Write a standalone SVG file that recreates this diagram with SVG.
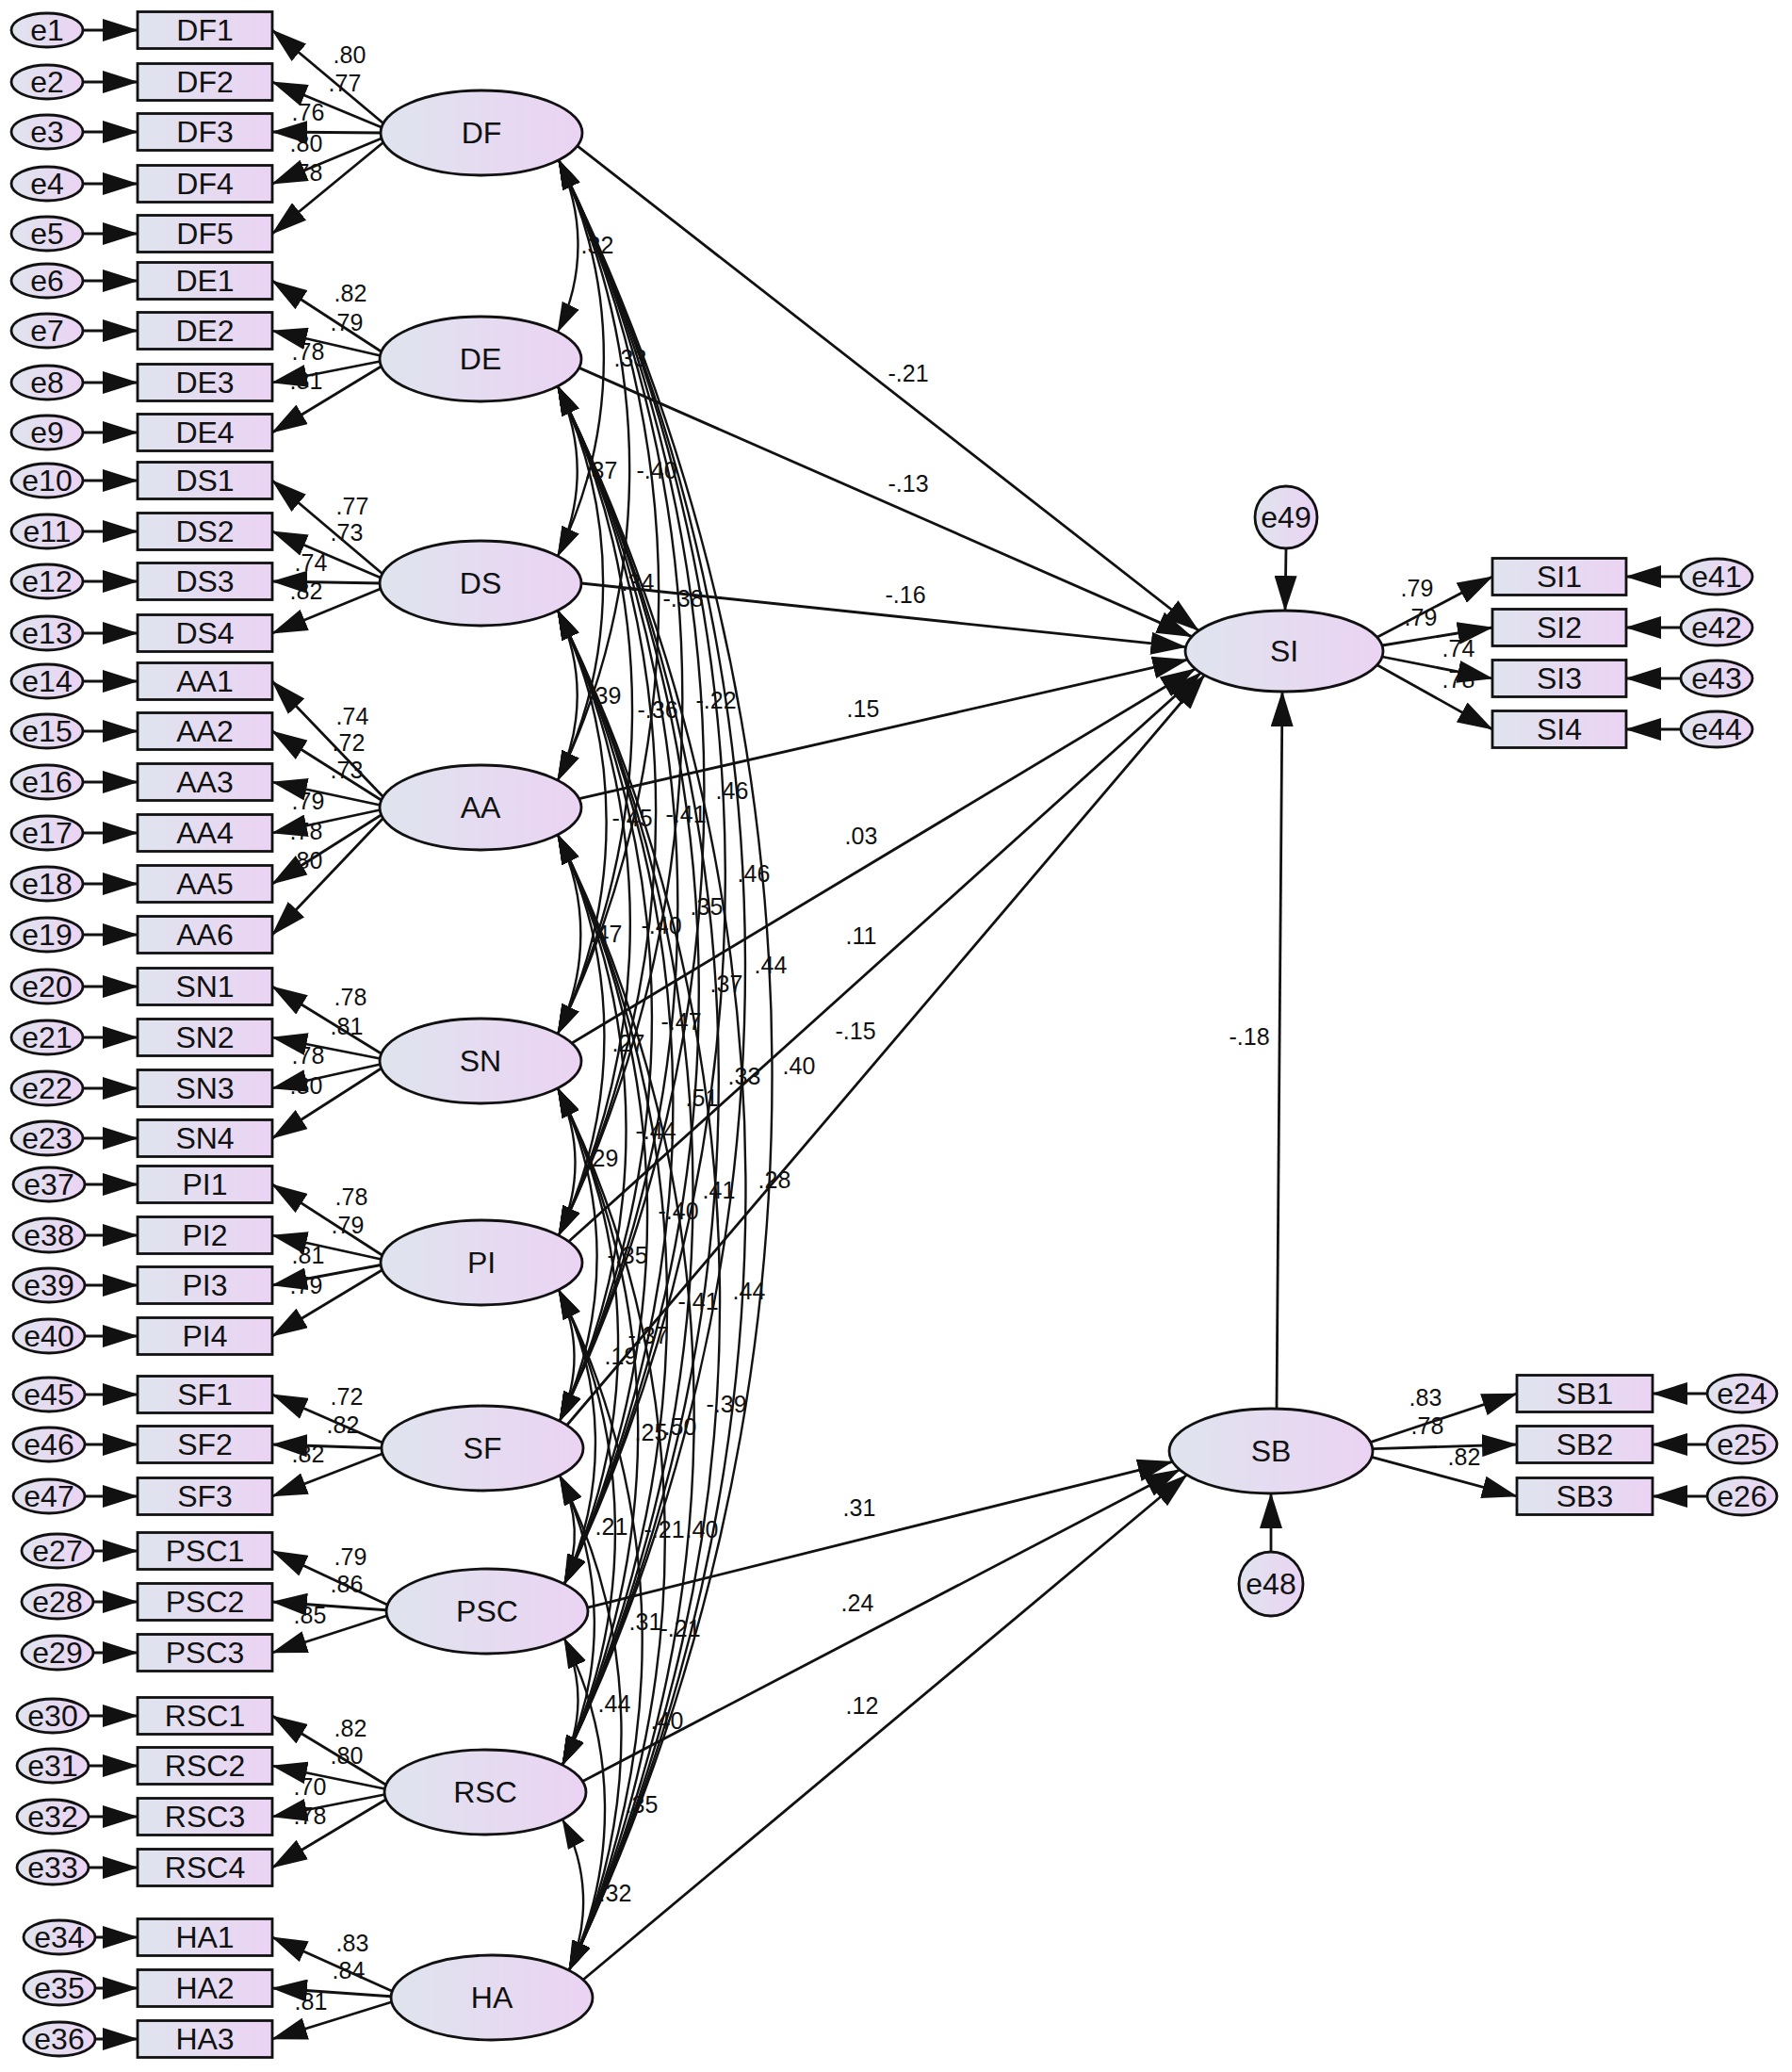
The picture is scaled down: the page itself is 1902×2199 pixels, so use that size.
<svg xmlns="http://www.w3.org/2000/svg" width="1902" height="2199" viewBox="0 0 1902 2199">
<defs>
<linearGradient id="g" x1="0" y1="0" x2="1" y2="0"><stop offset="0" stop-color="#dfe4ee"/><stop offset="1" stop-color="#ebd3f3"/></linearGradient>
<marker id="ah" viewBox="0 0 38 24" refX="37" refY="12" markerUnits="userSpaceOnUse" markerWidth="38" markerHeight="24" orient="auto"><path d="M0,0 L38,12 L0,24 z" fill="#111"/></marker>
<marker id="ac" viewBox="0 0 32 20" refX="31" refY="10" markerUnits="userSpaceOnUse" markerWidth="32" markerHeight="20" orient="auto-start-reverse"><path d="M0,0 L32,10 L0,20 z" fill="#111"/></marker>
<style>
.box,.lat,.err{fill:url(#g);stroke:#111;stroke-width:2.8}
.ln{stroke:#111;stroke-width:2.8;fill:none;marker-end:url(#ah)}
.cv{stroke:#111;stroke-width:2.4;fill:none;marker-start:url(#ac);marker-end:url(#ac)}
text{font-family:"Liberation Sans",Arial,sans-serif;fill:#111;text-anchor:middle}
.t{font-size:32px}
.n{font-size:25px}
</style>
</defs>
<rect width="1902" height="2199" fill="#fff"/>

<g id="connectors">
<path class="ln" d="M88,32 L146,32"/><path class="ln" d="M88,87 L146,87"/><path class="ln" d="M88,140 L146,140"/><path class="ln" d="M88,195 L146,195"/><path class="ln" d="M88,248 L146,248"/>
<path class="ln" d="M88,298 L146,298"/><path class="ln" d="M88,351 L146,351"/><path class="ln" d="M88,406 L146,406"/><path class="ln" d="M88,459 L146,459"/>
<path class="ln" d="M88,510 L146,510"/><path class="ln" d="M88,564 L146,564"/><path class="ln" d="M88,617 L146,617"/><path class="ln" d="M88,672 L146,672"/>
<path class="ln" d="M88,723 L146,723"/><path class="ln" d="M88,776 L146,776"/><path class="ln" d="M88,830 L146,830"/><path class="ln" d="M88,884 L146,884"/><path class="ln" d="M88,938 L146,938"/><path class="ln" d="M88,992 L146,992"/>
<path class="ln" d="M88,1047 L146,1047"/><path class="ln" d="M88,1101 L146,1101"/><path class="ln" d="M88,1155 L146,1155"/><path class="ln" d="M88,1208 L146,1208"/>
<path class="ln" d="M90,1257 L146,1257"/><path class="ln" d="M90,1311 L146,1311"/><path class="ln" d="M90,1364 L146,1364"/><path class="ln" d="M90,1418 L146,1418"/>
<path class="ln" d="M90,1480 L146,1480"/><path class="ln" d="M90,1533 L146,1533"/><path class="ln" d="M90,1588 L146,1588"/>
<path class="ln" d="M99,1646 L146,1646"/><path class="ln" d="M99,1700 L146,1700"/><path class="ln" d="M99,1754 L146,1754"/>
<path class="ln" d="M94,1821 L146,1821"/><path class="ln" d="M94,1874 L146,1874"/><path class="ln" d="M94,1928 L146,1928"/><path class="ln" d="M94,1982 L146,1982"/>
<path class="ln" d="M101,2056 L146,2056"/><path class="ln" d="M101,2110 L146,2110"/><path class="ln" d="M101,2164 L146,2164"/>

<path class="ln" d="M407,131 L289,32"/><path class="ln" d="M407,136 L289,87"/><path class="ln" d="M407,141 L289,140"/><path class="ln" d="M407,146 L289,195"/><path class="ln" d="M407,151 L289,248"/>
<path class="ln" d="M406,374 L289,298"/><path class="ln" d="M406,378 L289,351"/><path class="ln" d="M406,383 L289,406"/><path class="ln" d="M406,388 L289,459"/>
<path class="ln" d="M406,609 L289,510"/><path class="ln" d="M406,614 L289,564"/><path class="ln" d="M406,619 L289,617"/><path class="ln" d="M406,624 L289,672"/>
<path class="ln" d="M406,845 L289,723"/><path class="ln" d="M406,850 L289,776"/><path class="ln" d="M406,855 L289,830"/><path class="ln" d="M406,859 L289,884"/><path class="ln" d="M406,864 L289,938"/><path class="ln" d="M406,869 L289,992"/>
<path class="ln" d="M406,1119 L289,1047"/><path class="ln" d="M406,1124 L289,1101"/><path class="ln" d="M406,1129 L289,1155"/><path class="ln" d="M406,1133 L289,1208"/>
<path class="ln" d="M407,1333 L289,1257"/><path class="ln" d="M407,1337 L289,1311"/><path class="ln" d="M407,1342 L289,1364"/><path class="ln" d="M407,1347 L289,1418"/>
<path class="ln" d="M408,1532 L289,1480"/><path class="ln" d="M408,1537 L289,1533"/><path class="ln" d="M408,1542 L289,1588"/>
<path class="ln" d="M413,1704 L289,1646"/><path class="ln" d="M413,1709 L289,1700"/><path class="ln" d="M413,1714 L289,1754"/>
<path class="ln" d="M411,1895 L289,1821"/><path class="ln" d="M411,1899 L289,1874"/><path class="ln" d="M411,1904 L289,1928"/><path class="ln" d="M411,1909 L289,1982"/>
<path class="ln" d="M418,2114 L289,2056"/><path class="ln" d="M418,2119 L289,2110"/><path class="ln" d="M418,2124 L289,2164"/>

<path class="cv" d="M593,170 A208,208 0 0 1 592,352"/>
<path class="cv" d="M593,170 A480,480 0 0 1 592,590"/>
<path class="cv" d="M593,170 A753,753 0 0 1 592,828"/>
<path class="cv" d="M593,170 A1060,1060 0 0 1 592,1097"/>
<path class="cv" d="M593,170 A1305,1305 0 0 1 593,1311"/>
<path class="cv" d="M593,170 A1531,1531 0 0 1 594,1508"/>
<path class="cv" d="M593,170 A1729,1729 0 0 1 599,1681"/>
<path class="cv" d="M593,170 A1948,1948 0 0 1 597,1873"/>
<path class="cv" d="M593,170 A2198,2198 0 0 1 604,2091"/>
<path class="cv" d="M592,410 A206,206 0 0 1 592,590"/>
<path class="cv" d="M592,410 A478,478 0 0 1 592,828"/>
<path class="cv" d="M592,410 A786,786 0 0 1 592,1097"/>
<path class="cv" d="M592,410 A1031,1031 0 0 1 593,1311"/>
<path class="cv" d="M592,410 A1256,1256 0 0 1 594,1508"/>
<path class="cv" d="M592,410 A1454,1454 0 0 1 599,1681"/>
<path class="cv" d="M592,410 A1674,1674 0 0 1 597,1873"/>
<path class="cv" d="M592,410 A1923,1923 0 0 1 604,2091"/>
<path class="cv" d="M592,648 A206,206 0 0 1 592,828"/>
<path class="cv" d="M592,648 A514,514 0 0 1 592,1097"/>
<path class="cv" d="M592,648 A758,758 0 0 1 593,1311"/>
<path class="cv" d="M592,648 A984,984 0 0 1 594,1508"/>
<path class="cv" d="M592,648 A1182,1182 0 0 1 599,1681"/>
<path class="cv" d="M592,648 A1401,1401 0 0 1 597,1873"/>
<path class="cv" d="M592,648 A1651,1651 0 0 1 604,2091"/>
<path class="cv" d="M592,886 A241,241 0 0 1 592,1097"/>
<path class="cv" d="M592,886 A486,486 0 0 1 593,1311"/>
<path class="cv" d="M592,886 A712,712 0 0 1 594,1508"/>
<path class="cv" d="M592,886 A909,909 0 0 1 599,1681"/>
<path class="cv" d="M592,886 A1129,1129 0 0 1 597,1873"/>
<path class="cv" d="M592,886 A1379,1379 0 0 1 604,2091"/>
<path class="cv" d="M592,1155 A178,178 0 0 1 593,1311"/>
<path class="cv" d="M592,1155 A404,404 0 0 1 594,1508"/>
<path class="cv" d="M592,1155 A602,602 0 0 1 599,1681"/>
<path class="cv" d="M592,1155 A821,821 0 0 1 597,1873"/>
<path class="cv" d="M592,1155 A1071,1071 0 0 1 604,2091"/>
<path class="cv" d="M593,1369 A159,159 0 0 1 594,1508"/>
<path class="cv" d="M593,1369 A357,357 0 0 1 599,1681"/>
<path class="cv" d="M593,1369 A577,577 0 0 1 597,1873"/>
<path class="cv" d="M593,1369 A826,826 0 0 1 604,2091"/>
<path class="cv" d="M594,1566 A132,132 0 0 1 599,1681"/>
<path class="cv" d="M594,1566 A351,351 0 0 1 597,1873"/>
<path class="cv" d="M594,1566 A601,601 0 0 1 604,2091"/>
<path class="cv" d="M599,1739 A153,153 0 0 1 597,1873"/>
<path class="cv" d="M599,1739 A403,403 0 0 1 604,2091"/>
<path class="cv" d="M597,1931 A183,183 0 0 1 604,2091"/>

<path class="ln" d="M612.8,154.9 L1272.3,669.4"/>
<path class="ln" d="M614.7,390.4 L1264.9,675.6"/>
<path class="ln" d="M617,619 L1258.5,686.6"/>
<path class="ln" d="M614.7,847.6 L1260.4,700.1"/>
<path class="ln" d="M607,1107 L1268.6,709.8"/>
<path class="ln" d="M603.7,1317.5 L1274.4,714.1"/>
<path class="ln" d="M601.7,1512.5 L1278.4,716.5"/>
<path class="ln" d="M623.6,1706.1 L1244.5,1551.3"/>
<path class="ln" d="M618.4,1890.4 L1252.1,1559.8"/>
<path class="ln" d="M619,2101 L1259.7,1565.3"/>
<path class="ln" d="M1355,1495 L1361,734"/>
<path class="ln" d="M1365,582 L1364,648"/>
<path class="ln" d="M1349,1647 L1349,1585"/>

<path class="ln" d="M1461.7,676.3 L1584,612"/><path class="ln" d="M1467,685 L1584,666"/><path class="ln" d="M1467,697 L1584,720"/><path class="ln" d="M1461.7,705.7 L1584,774"/>
<path class="ln" d="M1784,612 L1726,612"/><path class="ln" d="M1784,666 L1726,666"/><path class="ln" d="M1784,720 L1726,720"/><path class="ln" d="M1784,774 L1726,774"/>
<path class="ln" d="M1454.6,1530.6 L1610,1479"/><path class="ln" d="M1456.9,1537.6 L1610,1533"/><path class="ln" d="M1455.9,1546.3 L1610,1588"/>
<path class="ln" d="M1812,1479 L1754,1479"/><path class="ln" d="M1812,1533 L1754,1533"/><path class="ln" d="M1812,1588 L1754,1588"/>
</g>

<g id="labels">
<g class="n">
<text x="371" y="67">.80</text><text x="366" y="97">.77</text><text x="327" y="128">.76</text><text x="325" y="161">.80</text><text x="325" y="192">.78</text>
<text x="372" y="320">.82</text><text x="368" y="351">.79</text><text x="327" y="382">.78</text><text x="325" y="413">.81</text>
<text x="374" y="546">.77</text><text x="368" y="574">.73</text><text x="330" y="606">.74</text><text x="325" y="636">.82</text>
<text x="374" y="769">.74</text><text x="370" y="797">.72</text><text x="368" y="826">.73</text><text x="327" y="859">.79</text><text x="325" y="891">.78</text><text x="325" y="922">.80</text>
<text x="372" y="1067">.78</text><text x="368" y="1098">.81</text><text x="327" y="1129">.78</text><text x="325" y="1161">.80</text>
<text x="373" y="1279">.78</text><text x="369" y="1309">.79</text><text x="327" y="1341">.81</text><text x="325" y="1373">.79</text>
<text x="368" y="1491">.72</text><text x="364" y="1521">.82</text><text x="327" y="1552">.82</text>
<text x="372" y="1661">.79</text><text x="368" y="1690">.86</text><text x="329" y="1723">.85</text>
<text x="372" y="1843">.82</text><text x="368" y="1872">.80</text><text x="329" y="1905">.70</text><text x="329" y="1936">.78</text>
<text x="374" y="2071">.83</text><text x="370" y="2100">.84</text><text x="330" y="2133">.81</text>
<text x="1504" y="633">.79</text><text x="1508" y="664">.79</text><text x="1548" y="697">.74</text><text x="1548" y="730">.78</text>
<text x="1513" y="1492">.83</text><text x="1515" y="1522">.78</text><text x="1554" y="1555">.82</text>
<text x="964" y="405">-.21</text><text x="964" y="522">-.13</text><text x="961" y="640">-.16</text><text x="916" y="761">.15</text><text x="914" y="896">.03</text><text x="914" y="1002">.11</text><text x="908" y="1103">-.15</text>
<text x="912" y="1609">.31</text><text x="910" y="1710">.24</text><text x="915" y="1819">.12</text>
<text x="1326" y="1109">-.18</text>
<text x="634" y="269">.32</text><text x="669" y="389">.33</text><text x="638" y="508">.37</text><text x="697" y="508">-.40</text>
<text x="677" y="627">.34</text><text x="725" y="644">-.38</text><text x="642" y="747">.39</text><text x="698" y="762">-.36</text><text x="760" y="752">-.22</text>
<text x="777" y="848">.46</text><text x="671" y="877">-.45</text><text x="728" y="873">-.41</text><text x="800" y="936">.46</text><text x="750" y="971">.35</text>
<text x="643" y="1000">.47</text><text x="702" y="991">-.40</text><text x="818" y="1033">.44</text><text x="771" y="1053">.37</text><text x="723" y="1093">-.47</text>
<text x="667" y="1116">.27</text><text x="848" y="1140">.40</text><text x="790" y="1151">.33</text><text x="745" y="1174">.51</text><text x="696" y="1209">-.44</text>
<text x="639" y="1238">.29</text><text x="822" y="1261">.28</text><text x="763" y="1272">.41</text><text x="720" y="1294">-.40</text><text x="666" y="1341">-.35</text>
<text x="795" y="1379">.44</text><text x="741" y="1390">-.41</text><text x="659" y="1448">.19</text><text x="688" y="1426">-.37</text><text x="771" y="1499">-.39</text>
<text x="691" y="1529">.25</text><text x="722" y="1523">.50</text><text x="649" y="1629">.21</text><text x="705" y="1632">-.21</text><text x="745" y="1632">.40</text>
<text x="685" y="1730">.31</text><text x="722" y="1737">-.21</text><text x="652" y="1817">.44</text><text x="708" y="1835">.40</text><text x="681" y="1924">.35</text><text x="653" y="2018">.32</text>
</g>
</g>

<g id="DF"><ellipse class="lat" cx="511" cy="141" rx="107" ry="45"/><text class="t" x="511" y="152">DF</text></g>
<g id="DE"><ellipse class="lat" cx="510" cy="381" rx="107" ry="45"/><text class="t" x="510" y="392">DE</text></g>
<g id="DS"><ellipse class="lat" cx="510" cy="619" rx="107" ry="45"/><text class="t" x="510" y="630">DS</text></g>
<g id="AA"><ellipse class="lat" cx="510" cy="857" rx="107" ry="45"/><text class="t" x="510" y="868">AA</text></g>
<g id="SN"><ellipse class="lat" cx="510" cy="1126" rx="107" ry="45"/><text class="t" x="510" y="1137">SN</text></g>
<g id="PI"><ellipse class="lat" cx="511" cy="1340" rx="107" ry="45"/><text class="t" x="511" y="1351">PI</text></g>
<g id="SF"><ellipse class="lat" cx="512" cy="1537" rx="107" ry="45"/><text class="t" x="512" y="1548">SF</text></g>
<g id="PSC"><ellipse class="lat" cx="517" cy="1710" rx="107" ry="45"/><text class="t" x="517" y="1721">PSC</text></g>
<g id="RSC"><ellipse class="lat" cx="515" cy="1902" rx="107" ry="45"/><text class="t" x="515" y="1913">RSC</text></g>
<g id="HA"><ellipse class="lat" cx="522" cy="2120" rx="107" ry="45"/><text class="t" x="522" y="2131">HA</text></g>
<g id="SI"><ellipse class="lat" cx="1363" cy="691" rx="105" ry="43"/><text class="t" x="1363" y="702">SI</text></g>
<g id="SB"><ellipse class="lat" cx="1349" cy="1540" rx="108" ry="45"/><text class="t" x="1349" y="1551">SB</text></g>
<g id="e49"><ellipse class="err" cx="1365" cy="549" rx="33" ry="33"/><text class="t" x="1365" y="560">e49</text></g>
<g id="e48"><ellipse class="err" cx="1349" cy="1681" rx="34" ry="34"/><text class="t" x="1349" y="1692">e48</text></g>

<g id="DF1"><rect class="box" x="146" y="12.5" width="143" height="39"/><text class="t" x="217.5" y="43">DF1</text></g>
<g id="DF2"><rect class="box" x="146" y="67.5" width="143" height="39"/><text class="t" x="217.5" y="98">DF2</text></g>
<g id="DF3"><rect class="box" x="146" y="120.5" width="143" height="39"/><text class="t" x="217.5" y="151">DF3</text></g>
<g id="DF4"><rect class="box" x="146" y="175.5" width="143" height="39"/><text class="t" x="217.5" y="206">DF4</text></g>
<g id="DF5"><rect class="box" x="146" y="228.5" width="143" height="39"/><text class="t" x="217.5" y="259">DF5</text></g>
<g id="DE1"><rect class="box" x="146" y="278.5" width="143" height="39"/><text class="t" x="217.5" y="309">DE1</text></g>
<g id="DE2"><rect class="box" x="146" y="331.5" width="143" height="39"/><text class="t" x="217.5" y="362">DE2</text></g>
<g id="DE3"><rect class="box" x="146" y="386.5" width="143" height="39"/><text class="t" x="217.5" y="417">DE3</text></g>
<g id="DE4"><rect class="box" x="146" y="439.5" width="143" height="39"/><text class="t" x="217.5" y="470">DE4</text></g>
<g id="DS1"><rect class="box" x="146" y="490.5" width="143" height="39"/><text class="t" x="217.5" y="521">DS1</text></g>
<g id="DS2"><rect class="box" x="146" y="544.5" width="143" height="39"/><text class="t" x="217.5" y="575">DS2</text></g>
<g id="DS3"><rect class="box" x="146" y="597.5" width="143" height="39"/><text class="t" x="217.5" y="628">DS3</text></g>
<g id="DS4"><rect class="box" x="146" y="652.5" width="143" height="39"/><text class="t" x="217.5" y="683">DS4</text></g>
<g id="AA1"><rect class="box" x="146" y="703.5" width="143" height="39"/><text class="t" x="217.5" y="734">AA1</text></g>
<g id="AA2"><rect class="box" x="146" y="756.5" width="143" height="39"/><text class="t" x="217.5" y="787">AA2</text></g>
<g id="AA3"><rect class="box" x="146" y="810.5" width="143" height="39"/><text class="t" x="217.5" y="841">AA3</text></g>
<g id="AA4"><rect class="box" x="146" y="864.5" width="143" height="39"/><text class="t" x="217.5" y="895">AA4</text></g>
<g id="AA5"><rect class="box" x="146" y="918.5" width="143" height="39"/><text class="t" x="217.5" y="949">AA5</text></g>
<g id="AA6"><rect class="box" x="146" y="972.5" width="143" height="39"/><text class="t" x="217.5" y="1003">AA6</text></g>
<g id="SN1"><rect class="box" x="146" y="1027.5" width="143" height="39"/><text class="t" x="217.5" y="1058">SN1</text></g>
<g id="SN2"><rect class="box" x="146" y="1081.5" width="143" height="39"/><text class="t" x="217.5" y="1112">SN2</text></g>
<g id="SN3"><rect class="box" x="146" y="1135.5" width="143" height="39"/><text class="t" x="217.5" y="1166">SN3</text></g>
<g id="SN4"><rect class="box" x="146" y="1188.5" width="143" height="39"/><text class="t" x="217.5" y="1219">SN4</text></g>
<g id="PI1"><rect class="box" x="146" y="1237.5" width="143" height="39"/><text class="t" x="217.5" y="1268">PI1</text></g>
<g id="PI2"><rect class="box" x="146" y="1291.5" width="143" height="39"/><text class="t" x="217.5" y="1322">PI2</text></g>
<g id="PI3"><rect class="box" x="146" y="1344.5" width="143" height="39"/><text class="t" x="217.5" y="1375">PI3</text></g>
<g id="PI4"><rect class="box" x="146" y="1398.5" width="143" height="39"/><text class="t" x="217.5" y="1429">PI4</text></g>
<g id="SF1"><rect class="box" x="146" y="1460.5" width="143" height="39"/><text class="t" x="217.5" y="1491">SF1</text></g>
<g id="SF2"><rect class="box" x="146" y="1513.5" width="143" height="39"/><text class="t" x="217.5" y="1544">SF2</text></g>
<g id="SF3"><rect class="box" x="146" y="1568.5" width="143" height="39"/><text class="t" x="217.5" y="1599">SF3</text></g>
<g id="PSC1"><rect class="box" x="146" y="1626.5" width="143" height="39"/><text class="t" x="217.5" y="1657">PSC1</text></g>
<g id="PSC2"><rect class="box" x="146" y="1680.5" width="143" height="39"/><text class="t" x="217.5" y="1711">PSC2</text></g>
<g id="PSC3"><rect class="box" x="146" y="1734.5" width="143" height="39"/><text class="t" x="217.5" y="1765">PSC3</text></g>
<g id="RSC1"><rect class="box" x="146" y="1801.5" width="143" height="39"/><text class="t" x="217.5" y="1832">RSC1</text></g>
<g id="RSC2"><rect class="box" x="146" y="1854.5" width="143" height="39"/><text class="t" x="217.5" y="1885">RSC2</text></g>
<g id="RSC3"><rect class="box" x="146" y="1908.5" width="143" height="39"/><text class="t" x="217.5" y="1939">RSC3</text></g>
<g id="RSC4"><rect class="box" x="146" y="1962.5" width="143" height="39"/><text class="t" x="217.5" y="1993">RSC4</text></g>
<g id="HA1"><rect class="box" x="146" y="2036.5" width="143" height="39"/><text class="t" x="217.5" y="2067">HA1</text></g>
<g id="HA2"><rect class="box" x="146" y="2090.5" width="143" height="39"/><text class="t" x="217.5" y="2121">HA2</text></g>
<g id="HA3"><rect class="box" x="146" y="2144.5" width="143" height="39"/><text class="t" x="217.5" y="2175">HA3</text></g>
<g id="SI1"><rect class="box" x="1584" y="592.5" width="142" height="39"/><text class="t" x="1655" y="623">SI1</text></g>
<g id="SI2"><rect class="box" x="1584" y="646.5" width="142" height="39"/><text class="t" x="1655" y="677">SI2</text></g>
<g id="SI3"><rect class="box" x="1584" y="700.5" width="142" height="39"/><text class="t" x="1655" y="731">SI3</text></g>
<g id="SI4"><rect class="box" x="1584" y="754.5" width="142" height="39"/><text class="t" x="1655" y="785">SI4</text></g>
<g id="SB1"><rect class="box" x="1610" y="1459.5" width="144" height="39"/><text class="t" x="1682" y="1490">SB1</text></g>
<g id="SB2"><rect class="box" x="1610" y="1513.5" width="144" height="39"/><text class="t" x="1682" y="1544">SB2</text></g>
<g id="SB3"><rect class="box" x="1610" y="1568.5" width="144" height="39"/><text class="t" x="1682" y="1599">SB3</text></g>

<g id="e1"><ellipse class="err" cx="50" cy="32" rx="38" ry="18"/><text class="t" x="50" y="43">e1</text></g>
<g id="e2"><ellipse class="err" cx="50" cy="87" rx="38" ry="18"/><text class="t" x="50" y="98">e2</text></g>
<g id="e3"><ellipse class="err" cx="50" cy="140" rx="38" ry="18"/><text class="t" x="50" y="151">e3</text></g>
<g id="e4"><ellipse class="err" cx="50" cy="195" rx="38" ry="18"/><text class="t" x="50" y="206">e4</text></g>
<g id="e5"><ellipse class="err" cx="50" cy="248" rx="38" ry="18"/><text class="t" x="50" y="259">e5</text></g>
<g id="e6"><ellipse class="err" cx="50" cy="298" rx="38" ry="18"/><text class="t" x="50" y="309">e6</text></g>
<g id="e7"><ellipse class="err" cx="50" cy="351" rx="38" ry="18"/><text class="t" x="50" y="362">e7</text></g>
<g id="e8"><ellipse class="err" cx="50" cy="406" rx="38" ry="18"/><text class="t" x="50" y="417">e8</text></g>
<g id="e9"><ellipse class="err" cx="50" cy="459" rx="38" ry="18"/><text class="t" x="50" y="470">e9</text></g>
<g id="e10"><ellipse class="err" cx="50" cy="510" rx="38" ry="18"/><text class="t" x="50" y="521">e10</text></g>
<g id="e11"><ellipse class="err" cx="50" cy="564" rx="38" ry="18"/><text class="t" x="50" y="575">e11</text></g>
<g id="e12"><ellipse class="err" cx="50" cy="617" rx="38" ry="18"/><text class="t" x="50" y="628">e12</text></g>
<g id="e13"><ellipse class="err" cx="50" cy="672" rx="38" ry="18"/><text class="t" x="50" y="683">e13</text></g>
<g id="e14"><ellipse class="err" cx="50" cy="723" rx="38" ry="18"/><text class="t" x="50" y="734">e14</text></g>
<g id="e15"><ellipse class="err" cx="50" cy="776" rx="38" ry="18"/><text class="t" x="50" y="787">e15</text></g>
<g id="e16"><ellipse class="err" cx="50" cy="830" rx="38" ry="18"/><text class="t" x="50" y="841">e16</text></g>
<g id="e17"><ellipse class="err" cx="50" cy="884" rx="38" ry="18"/><text class="t" x="50" y="895">e17</text></g>
<g id="e18"><ellipse class="err" cx="50" cy="938" rx="38" ry="18"/><text class="t" x="50" y="949">e18</text></g>
<g id="e19"><ellipse class="err" cx="50" cy="992" rx="38" ry="18"/><text class="t" x="50" y="1003">e19</text></g>
<g id="e20"><ellipse class="err" cx="50" cy="1047" rx="38" ry="18"/><text class="t" x="50" y="1058">e20</text></g>
<g id="e21"><ellipse class="err" cx="50" cy="1101" rx="38" ry="18"/><text class="t" x="50" y="1112">e21</text></g>
<g id="e22"><ellipse class="err" cx="50" cy="1155" rx="38" ry="18"/><text class="t" x="50" y="1166">e22</text></g>
<g id="e23"><ellipse class="err" cx="50" cy="1208" rx="38" ry="18"/><text class="t" x="50" y="1219">e23</text></g>
<g id="e37"><ellipse class="err" cx="52" cy="1257" rx="38" ry="18"/><text class="t" x="52" y="1268">e37</text></g>
<g id="e38"><ellipse class="err" cx="52" cy="1311" rx="38" ry="18"/><text class="t" x="52" y="1322">e38</text></g>
<g id="e39"><ellipse class="err" cx="52" cy="1364" rx="38" ry="18"/><text class="t" x="52" y="1375">e39</text></g>
<g id="e40"><ellipse class="err" cx="52" cy="1418" rx="38" ry="18"/><text class="t" x="52" y="1429">e40</text></g>
<g id="e45"><ellipse class="err" cx="52" cy="1480" rx="38" ry="18"/><text class="t" x="52" y="1491">e45</text></g>
<g id="e46"><ellipse class="err" cx="52" cy="1533" rx="38" ry="18"/><text class="t" x="52" y="1544">e46</text></g>
<g id="e47"><ellipse class="err" cx="52" cy="1588" rx="38" ry="18"/><text class="t" x="52" y="1599">e47</text></g>
<g id="e27"><ellipse class="err" cx="61" cy="1646" rx="38" ry="18"/><text class="t" x="61" y="1657">e27</text></g>
<g id="e28"><ellipse class="err" cx="61" cy="1700" rx="38" ry="18"/><text class="t" x="61" y="1711">e28</text></g>
<g id="e29"><ellipse class="err" cx="61" cy="1754" rx="38" ry="18"/><text class="t" x="61" y="1765">e29</text></g>
<g id="e30"><ellipse class="err" cx="56" cy="1821" rx="38" ry="18"/><text class="t" x="56" y="1832">e30</text></g>
<g id="e31"><ellipse class="err" cx="56" cy="1874" rx="38" ry="18"/><text class="t" x="56" y="1885">e31</text></g>
<g id="e32"><ellipse class="err" cx="56" cy="1928" rx="38" ry="18"/><text class="t" x="56" y="1939">e32</text></g>
<g id="e33"><ellipse class="err" cx="56" cy="1982" rx="38" ry="18"/><text class="t" x="56" y="1993">e33</text></g>
<g id="e34"><ellipse class="err" cx="63" cy="2056" rx="38" ry="18"/><text class="t" x="63" y="2067">e34</text></g>
<g id="e35"><ellipse class="err" cx="63" cy="2110" rx="38" ry="18"/><text class="t" x="63" y="2121">e35</text></g>
<g id="e36"><ellipse class="err" cx="63" cy="2164" rx="38" ry="18"/><text class="t" x="63" y="2175">e36</text></g>
<g id="e41"><ellipse class="err" cx="1822" cy="612" rx="38" ry="19"/><text class="t" x="1822" y="623">e41</text></g>
<g id="e42"><ellipse class="err" cx="1822" cy="666" rx="38" ry="19"/><text class="t" x="1822" y="677">e42</text></g>
<g id="e43"><ellipse class="err" cx="1822" cy="720" rx="38" ry="19"/><text class="t" x="1822" y="731">e43</text></g>
<g id="e44"><ellipse class="err" cx="1822" cy="774" rx="38" ry="19"/><text class="t" x="1822" y="785">e44</text></g>
<g id="e24"><ellipse class="err" cx="1849" cy="1479" rx="37" ry="20"/><text class="t" x="1849" y="1490">e24</text></g>
<g id="e25"><ellipse class="err" cx="1849" cy="1533" rx="37" ry="20"/><text class="t" x="1849" y="1544">e25</text></g>
<g id="e26"><ellipse class="err" cx="1849" cy="1588" rx="37" ry="20"/><text class="t" x="1849" y="1599">e26</text></g>
</svg>
